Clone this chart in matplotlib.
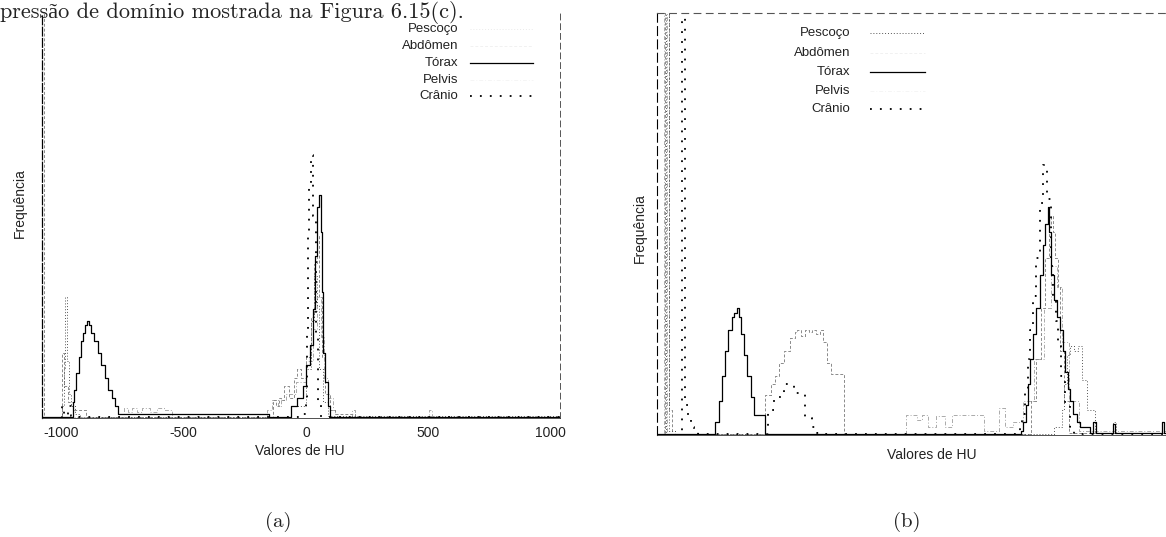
import matplotlib
matplotlib.use('Agg')
import matplotlib.pyplot as plt
from matplotlib.lines import Line2D

plt.rcParams['axes.unicode_minus'] = False

# ---------------- dados (a): valores de HU x frequência (% da altura) -------
torax_a_hu = [-1080, -955, -948, -940, -930, -920, -912, -904,
              -896, -888, -878, -866, -852, -838, -822, -808, -795, -782,
              -770, -150, -60, -35, -12, 0, 15, 28, 38, 46,
              53, 61, 66, 72, 80, 90, 100, 1040]
torax_a_freq = [0.3, 4, 7, 11, 15, 19, 21, 23,
                24, 23, 21, 19, 16, 13, 10, 7, 5, 3,
                1, 0.3, 3, 5, 8, 13, 18, 27, 40, 52,
                55, 46, 31, 16, 9, 3, 0.3, 0.3]

pescoco_a_hu = [-1080, -1000, -990, -984, -978, -970, -960, -945, -925, -160,
                -60, 0, 20, 35, 45, 55, 70, 90, 1040]
pescoco_a_freq = [0, 3, 12, 30, 14, 6, 3, 1, 0.3, 0.3,
                  3, 12, 24, 35, 28, 12, 4, 0.5, 0.5]

cranio_a_hu = [-1080, -1000, -990, -975, -960, -930, -20, 0, 4, 8,
               12, 20, 30, 40, 49, 60, 1040]
cranio_a_freq = [0, 3, 0.5, 3, 0.5, 0.3, 1, 4, 22, 45,
                 57, 65, 50, 20, 4, 0.3, 0.3]

abdomen_a_hu = [-1080, -1072, -1000, -992, -975, -955, -900, -134, -122, -112,
                -100, -90, -70, -50, -35, -20, 0, 20, 35, 45,
                55, 65, 80, 100, 120, 200, 1040]
abdomen_a_freq = [150, 0.3, 16, 8, 4, 2, 0.3, 4.5, 3, 5,
                  4.5, 8, 5, 10, 12, 10, 15, 25, 38, 45,
                  30, 15, 6, 2, 1, 0.3, 0.3]

pelvis_a_hu = [-1080, -746, -730, -710, -690, -670, -640, -610, -580, -550,
               -160, -140, -115, -100, -80, -40, 0, 30, 45, 60,
               75, 90, 110, 120, 190, 200, 505, 515, 1040]
pelvis_a_freq = [0.3, 2.5, 1.5, 2.5, 1.5, 2.5, 1.5, 2.5, 2, 0.3,
                 2, 4.5, 3, 4.5, 6, 9, 14, 22, 30, 20,
                 10, 5, 2, 0.3, 2, 0.3, 2, 0.3, 0.3]

# ---------------- dados (b): eixo sem rótulos (0 a 1000) ------------------
torax_b_x = [0, 100, 114, 122, 128, 134, 140, 147, 152, 157,
             162, 166, 171, 177, 184, 191, 212, 700, 715, 720,
             725, 729, 733, 739, 745, 752, 758, 763, 768, 771,
             774, 780, 786, 792, 798, 802, 807, 812, 817, 825,
             831, 850, 857, 862, 890, 896, 900, 985, 992, 996, 1000]
torax_b_freq = [0.3, 0.3, 3, 8, 14, 20, 25, 28, 29, 30,
                28, 24, 19, 14, 9, 4.7, 0.3, 0.3, 1, 3,
                7, 12, 18, 24, 30, 38, 45, 50, 54, 48,
                38, 32, 28, 25, 20, 15, 11, 8, 5, 3,
                2, 0.5, 3, 0.5, 0.5, 2.5, 0.5, 0.5, 3, 0.5, 0.5]

cranio_b_x = [0, 45, 49, 55, 60, 66, 72, 80, 85, 210,
              218, 230, 250, 270, 290, 305, 315, 330, 700, 713,
              717, 723, 729, 733, 739, 745, 752, 758, 766, 774,
              778, 784, 788, 794, 802, 811, 820, 1000]
cranio_b_freq = [0, 0.5, 150, 7, 4, 2, 1, 0.3, 0.3, 0.3,
                 6, 9, 12, 10, 4, 2, 0.5, 0.3, 0.3, 2,
                 5, 10, 18, 25, 33, 42, 55, 64, 56, 40,
                 33, 27, 21, 14, 7, 2, 0.3, 0.3]

abdomen_b_x = [0, 16, 24, 30, 212, 224, 232, 240, 250, 261,
               271, 275, 283, 291, 298, 305, 312, 320, 327, 334,
               342, 356, 367, 735, 745, 755, 763, 770, 774, 778,
               782, 788, 792, 800, 810, 1000]
abdomen_b_freq = [0, 150, 6, 0.3, 9.5, 12, 14, 17, 20, 23,
                  24.5, 25, 23.5, 25, 24.5, 25, 24, 25, 22, 17,
                  14.5, 14.5, 0.3, 8, 18, 30, 42, 50, 52, 48,
                  42, 35, 20, 8, 0.5, 0.5]

pelvis_b_x = [0, 14, 20, 480, 489, 500, 510, 520, 532, 548,
              566, 580, 599, 642, 672, 684, 700, 720, 740, 760,
              775, 785, 795, 810, 830, 1000]
pelvis_b_freq = [0, 150, 0.3, 0.3, 4.7, 4.7, 3.5, 4.7, 2, 4.5,
                 2, 4.7, 4.7, 1, 6.5, 2, 3, 8, 18, 30,
                 40, 35, 22, 8, 1, 0.5]

pescoco_b_x = [0, 18, 24, 36, 780, 795, 800, 805, 812, 820,
               827, 835, 845, 860, 896, 902, 1000]
pescoco_b_freq = [0, 150, 1, 0.3, 2, 6, 12, 19, 21, 20,
                  21, 13, 6, 0.5, 3, 0.5, 0.5]

series_names = ['Pescoço', 'Abdômen', 'Tórax', 'Pelvis', 'Crânio']
xticks_a = [-1000, -500, 0, 500, 1000]

# estilos de linha (monocromático, como no original)
styles = {
    'Pescoço': dict(color='#555555', lw=0.7, ls=(0, (1, 2))),
    'Abdômen': dict(color='#8a8a8a', lw=0.7, ls=(0, (3, 2))),
    'Tórax': dict(color='black', lw=0.9, ls='-'),
    'Pelvis': dict(color='#aaaaaa', lw=0.7, ls=(0, (4, 2, 1, 2))),
    'Crânio': dict(color='black', lw=1.3, ls=(0, (1, 4.5))),
}

W, H = 1166, 537
def fx(px):
    return px / W
def fy(py):
    return 1 - py / H

fig = plt.figure(figsize=(W / 100, H / 100), dpi=100)
sans = ['Liberation Sans', 'DejaVu Sans']
serif = ['cmr10', 'Liberation Serif', 'DejaVu Serif']

# ---------------- painel (a) ----------------
ax1 = fig.add_axes([fx(42), fy(418), fx(560) - fx(42), fy(13) - fy(418)])
data_a = {
    'Pelvis': (pelvis_a_hu, pelvis_a_freq),
    'Abdômen': (abdomen_a_hu, abdomen_a_freq),
    'Pescoço': (pescoco_a_hu, pescoco_a_freq),
    'Tórax': (torax_a_hu, torax_a_freq),
    'Crânio': (cranio_a_hu, cranio_a_freq),
}
for name, (x, y) in data_a.items():
    st = styles[name]
    ax1.step(x, y, where='post', color=st['color'], lw=st['lw'], ls=st['ls'])
ax1.set_xlim(-1080, 1040)
ax1.set_ylim(0, 100)
ax1.set_xticks(xticks_a)
ax1.set_xticklabels([str(v) for v in xticks_a], fontsize=10, family=sans, color='#222222')
ax1.tick_params(axis='x', length=0, pad=6)
ax1.set_yticks([])
ax1.spines['top'].set_visible(False)
ax1.spines['right'].set_linestyle((0, (6, 4)))
ax1.spines['right'].set_color('#555555')
ax1.spines['right'].set_linewidth(0.7)
ax1.spines['left'].set_linewidth(0.9)
ax1.spines['left'].set_linestyle((0, (7, 2)))
ax1.spines['bottom'].set_linewidth(0.6)
ax1.spines['bottom'].set_color('#333333')

# ---------------- painel (b) ----------------
ax2 = fig.add_axes([fx(657), fy(435), 1 - fx(657), fy(13) - fy(435)])
data_b = {
    'Pelvis': (pelvis_b_x, pelvis_b_freq),
    'Abdômen': (abdomen_b_x, abdomen_b_freq),
    'Pescoço': (pescoco_b_x, pescoco_b_freq),
    'Tórax': (torax_b_x, torax_b_freq),
    'Crânio': (cranio_b_x, cranio_b_freq),
}
for name, (x, y) in data_b.items():
    st = styles[name]
    ax2.step(x, y, where='post', color=st['color'], lw=st['lw'], ls=st['ls'])
ax2.set_xlim(0, 1000)
ax2.set_ylim(0, 100)
ax2.set_xticks([])
ax2.set_yticks([])
ax2.spines['right'].set_visible(False)
ax2.spines['top'].set_linestyle((0, (6, 5)))
ax2.spines['top'].set_color('#555555')
ax2.spines['top'].set_linewidth(0.8)
ax2.spines['left'].set_linestyle((0, (8, 4)))
ax2.spines['left'].set_linewidth(0.8)
ax2.spines['bottom'].set_linewidth(0.6)
ax2.spines['bottom'].set_color('#333333')

# ---------------- legendas no estilo gnuplot ----------------
def draw_key(label_right, sample, ys, visible):
    for name, py in zip(series_names, ys):
        fig.text(fx(label_right), fy(py), name, ha='right', va='center',
                 fontsize=9.5, family=sans, color='#222222')
        st = styles[name]
        alpha = 1.0 if name in visible else 0.12
        fig.add_artist(Line2D([fx(sample[0]), fx(sample[1])], [fy(py), fy(py)],
                              color=st['color'], lw=st['lw'], ls=st['ls'], alpha=alpha))

draw_key(458, (470, 533), [29, 46, 63, 80, 96], {'Tórax', 'Crânio'})
draw_key(850, (870, 925), [33, 53, 72, 91, 109], {'Pescoço', 'Tórax', 'Crânio'})

# ---------------- rótulos ----------------
fig.text(fx(300), fy(451), 'Valores de HU', ha='center', va='center',
         fontsize=10, family=sans, color='#222222')
fig.text(fx(932), fy(455), 'Valores de HU', ha='center', va='center',
         fontsize=10, family=sans, color='#222222')
fig.text(fx(20), fy(203), 'Frequência', ha='center', va='center', rotation=90,
         fontsize=10, family=sans, color='#222222')
fig.text(fx(640), fy(228), 'Frequência', ha='center', va='center', rotation=90,
         fontsize=10, family=sans, color='#222222')

fig.text(fx(278), fy(522), '(a)', ha='center', va='center', fontsize=15,
         family=serif, color='#222222')
fig.text(fx(907), fy(522), '(b)', ha='center', va='center', fontsize=15,
         family=serif, color='#222222')

# linha do texto da página (no topo)
fig.text(fx(0), fy(1), 'pressão de domínio mostrada na Figura 6.15(c).',
         ha='left', va='top', fontsize=16, family=serif, color='#222222')

fig.savefig('out.png', dpi=100)
